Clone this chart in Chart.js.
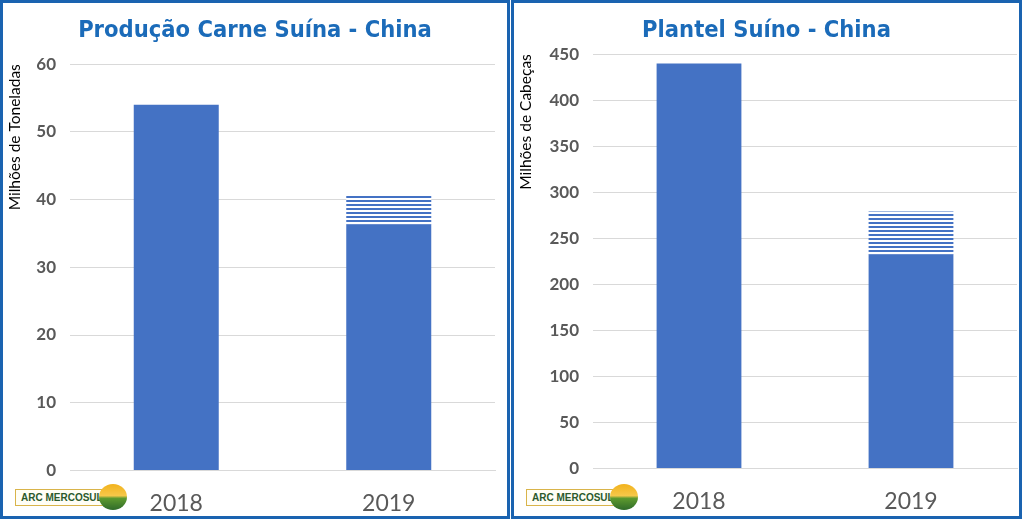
<!DOCTYPE html>
<html>
<head>
<meta charset="utf-8">
<script src="https://cdn.jsdelivr.net/npm/chart.js@4"></script>
<style>
  body { margin: 0; background: #fff; width: 1024px; height: 520px; overflow: hidden; position: relative; }
  .panel { position: absolute; top: 0; height: 519px; box-sizing: border-box; border: 3px solid #1a63b0; background: #fff; overflow: hidden; }
  .title { position: absolute; left: 0; right: 0; top: 12px; text-align: center; font-family: 'DejaVu Sans Condensed', 'DejaVu Sans', sans-serif; font-weight: bold; font-size: 23.5px; color: #1b6bb9; z-index: 2; }
  .wrap { position: absolute; left: 0; }
  .logo { position: absolute; left: 12px; top: 479px; width: 112px; height: 30px; z-index: 2; }
  .logo .box { position: absolute; left: 0; top: 7px; width: 90px; height: 17px; border: 1px solid #d9b44a; background: #fffef6;
    font-family: 'Liberation Sans', sans-serif; font-weight: bold; font-size: 10px; line-height: 16px; color: #2c5a2c; padding-left: 5px; box-sizing: border-box; }
  .logo .sun { position: absolute; left: 84px; top: 2px; width: 28px; height: 26px; border-radius: 50%;
    background: linear-gradient(#f2b21c 0%, #f6c84a 45%, #5e9a2e 55%, #2f6b2a 100%); }
</style>
</head>
<body>
<div class="panel" style="left:0;width:510px">
  <div class="title">Produção Carne Suína - China</div>
  <div class="wrap" style="top:37px;width:504px;height:488px"><canvas id="c1"></canvas></div>
  <div class="logo"><div class="box">ARC MERCOSUL</div><div class="sun"></div></div>
</div>
<div class="panel" style="left:511px;width:511px">
  <div class="title">Plantel Suíno - China</div>
  <div class="wrap" style="top:27px;width:505px;height:496px"><canvas id="c2"></canvas></div>
  <div class="logo"><div class="box">ARC MERCOSUL</div><div class="sun"></div></div>
</div>
<script>
// ── Data ──
const years = ['2018', '2019'];
const carneBase = [54, 36.3];
const carneExtra = [0, 4.5];
const plantelBase = [440, 232];
const plantelExtra = [0, 47];

const BLUE = '#4472c4';
const GRID = '#d9d9d9';
const GRAY = '#595959';

// striped fill for the projected part
function stripes() {
  const c = document.createElement('canvas');
  c.width = 8; c.height = 4;
  const x = c.getContext('2d');
  x.fillStyle = '#ffffff'; x.fillRect(0, 0, 8, 4);
  x.fillStyle = BLUE; x.fillRect(0, 0, 8, 2);
  return x.createPattern(c, 'repeat');
}

function makeChart(id, base, extra, max, step, yTitle, yWidth, padRight) {
  return new Chart(document.getElementById(id), {
    type: 'bar',
    data: {
      labels: years,
      datasets: [
        { data: base, backgroundColor: BLUE, barPercentage: 0.4, categoryPercentage: 1 },
        { data: extra, backgroundColor: stripes(), barPercentage: 0.4, categoryPercentage: 1 }
      ]
    },
    options: {
      responsive: true, maintainAspectRatio: false,
      animation: false,
      layout: { padding: { left: 3, right: padRight, top: 4, bottom: 0 } },
      plugins: { legend: { display: false }, tooltip: { enabled: false } },
      scales: {
        x: {
          stacked: true,
          grid: { display: false },
          border: { display: true, color: GRID },
          ticks: { color: GRAY, font: { family: 'Lato', size: 23 }, padding: 11 }
        },
        y: {
          stacked: true,
          min: 0, max: max,
          afterFit(s) { s.width = yWidth; },
          grid: { color: GRID, drawTicks: false },
          border: { display: false },
          ticks: { stepSize: step, color: GRAY, font: { family: 'Lato', size: 17, weight: 'bold' }, padding: 14 },
          title: { display: true, text: yTitle, align: 'end', color: '#000', font: { family: 'Lato', size: 15.5 }, padding: 0 }
        }
      }
    }
  });
}

makeChart('c1', carneBase, carneExtra, 60, 10, 'Milhões de Toneladas', 64, 12);
makeChart('c2', plantelBase, plantelExtra, 450, 50, 'Milhões de Cabeças', 76, 2);
</script>
</body>
</html>
